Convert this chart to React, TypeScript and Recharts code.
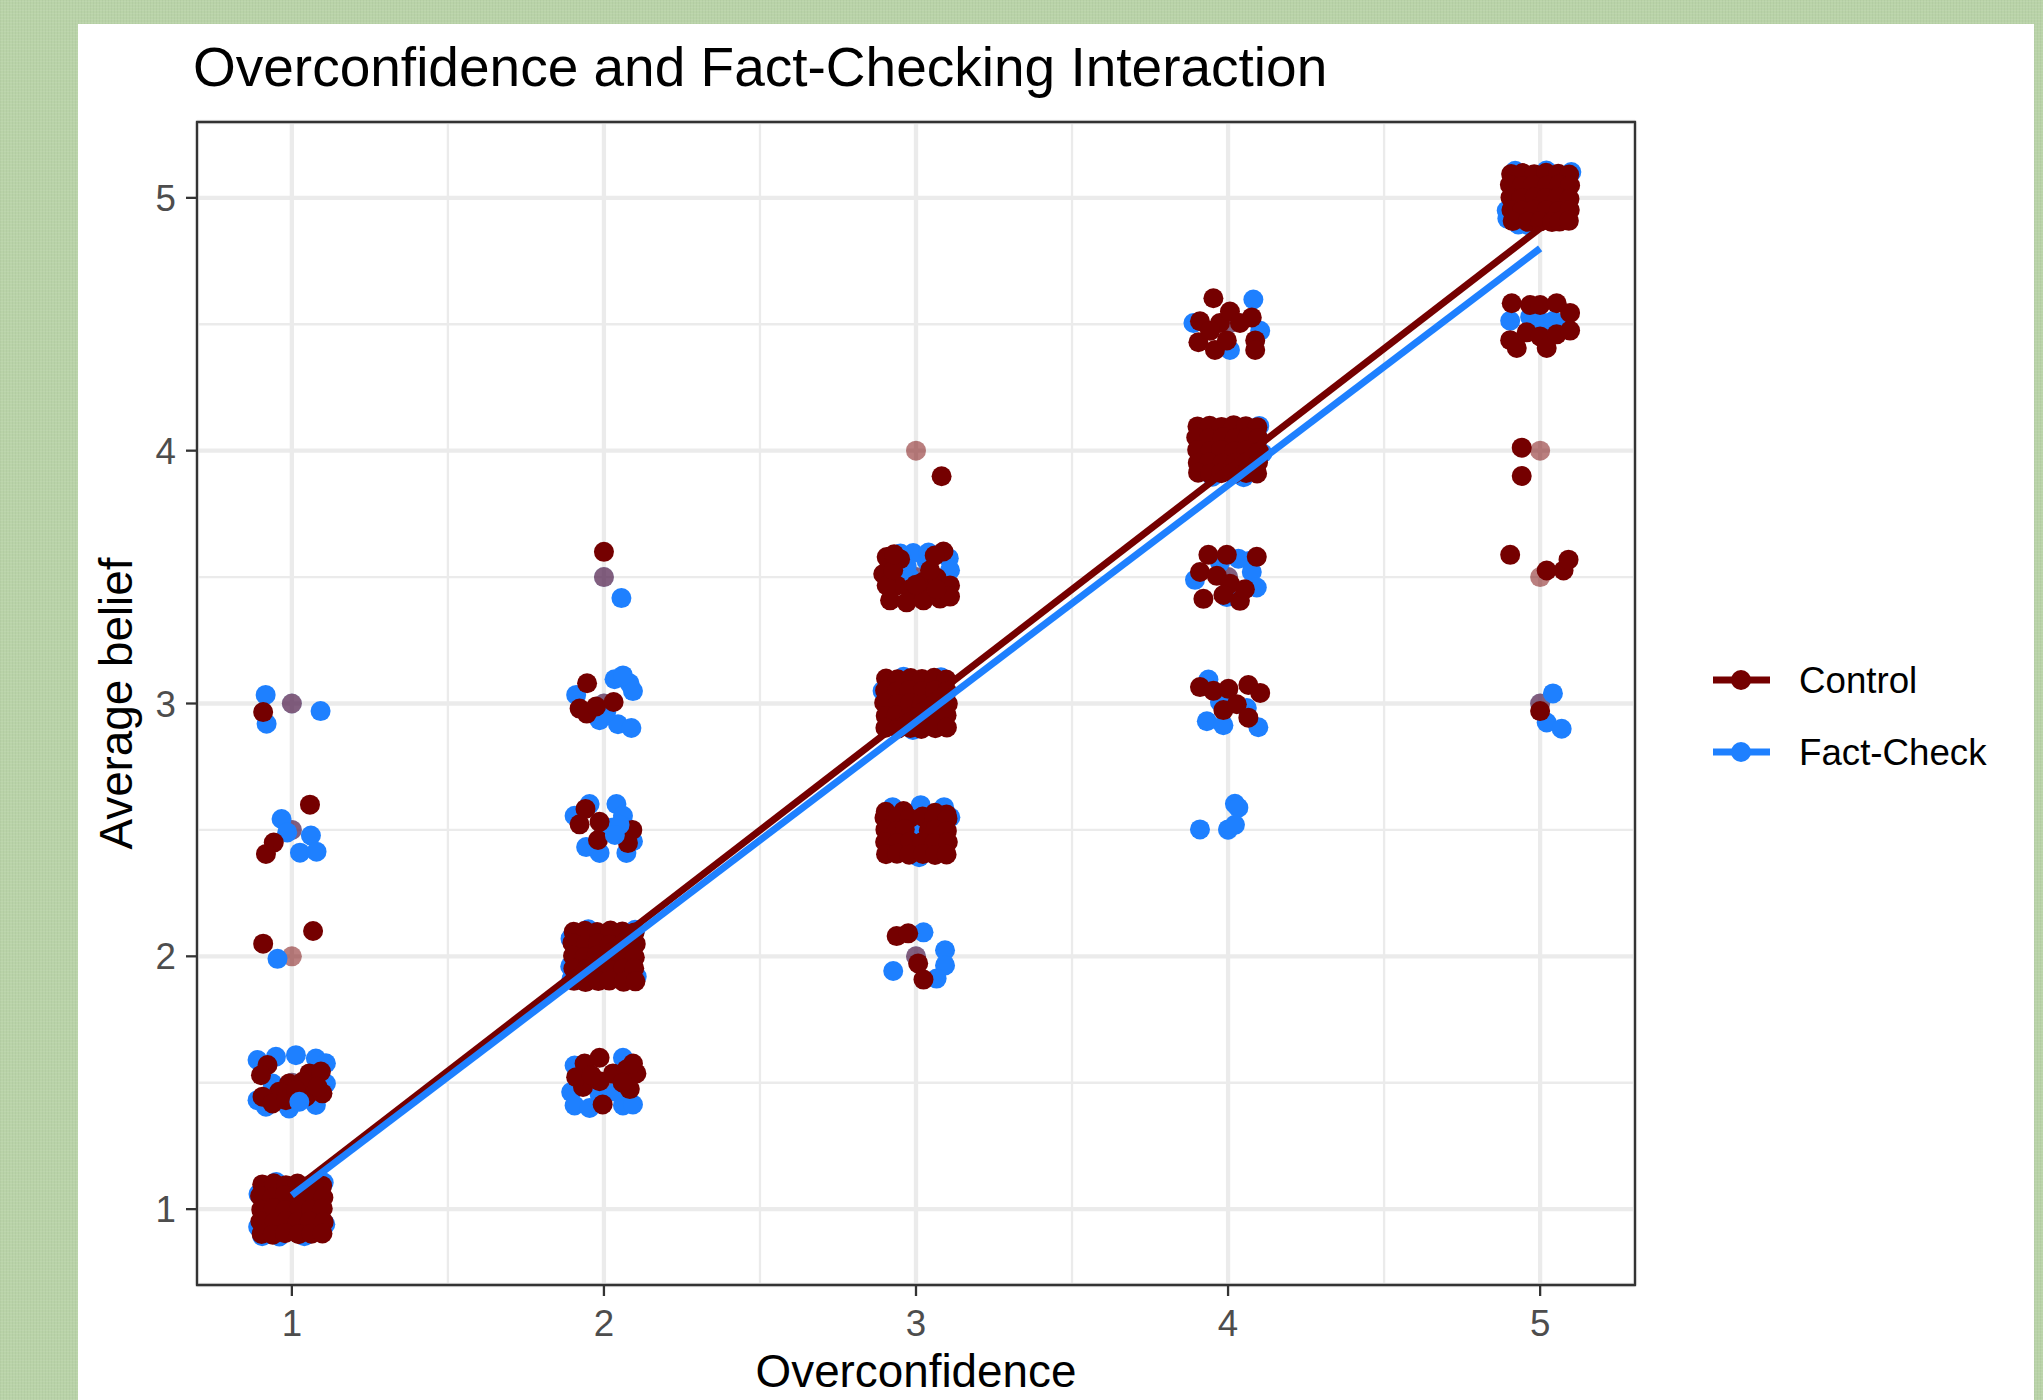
import React from 'react';
import { ScatterChart, Scatter, XAxis, YAxis, CartesianGrid, ReferenceArea, Legend } from 'recharts';

const FONT = '"Liberation Sans", Arial, Helvetica, sans-serif';
const CONTROL_COLOR = '#750000';
const FACT_COLOR = '#1E80FF';
const POINT_R = 10;

const chartTitle = 'Overconfidence and Fact-Checking Interaction';
const xTitle = 'Overconfidence';
const yTitle = 'Average belief';
const seriesNames = ['Control', 'Fact-Check'];

const xTicks = [1, 2, 3, 4, 5];
const yTicks = [1, 2, 3, 4, 5];
const minorBreaks = [1.5, 2.5, 3.5, 4.5];
const xDomain = [0.696, 5.304];
const yDomain = [0.7, 5.3];

// fitted lines (start / end)
const controlFit = [[1, 1.07], [5, 4.88]];
const factCheckFit = [[1, 1.055], [5, 4.8]];

// un-jittered observations (drawn translucent)
const controlExact = [
  [1, 3], [1, 2.5], [1, 2], [2, 3.5], [3, 4], [3, 2], [5, 4], [5, 3.5], [5, 3],
  [1, 1], [1, 1.5], [2, 2], [2, 1.5], [2, 2.5], [2, 3], [3, 3], [3, 3.5], [3, 2.5],
  [4, 4], [4, 4.5], [4, 3.5], [4, 3], [5, 5], [5, 4.5],
];
const factCheckExact = [
  [1, 3], [1, 2.5], [2, 3.5], [3, 2], [5, 3],
  [1, 1], [1, 1.5], [2, 2], [2, 1.5], [2, 2.5], [2, 3], [3, 3], [3, 3.5], [3, 2.5],
  [4, 4], [4, 4.5], [4, 3.5], [4, 3], [4, 2.5], [5, 5], [5, 4.5],
];

// jittered Control observations, by overconfidence level
const controlAt1 = [
  [0.908, 2.966],
  [1.058, 2.6], [0.942, 2.45], [0.917, 2.405],
  [1.068, 2.1], [0.908, 2.05],
  [0.922, 1.57], [0.901, 1.53], [1.056, 1.537], [1.093, 1.544], [0.991, 1.497], [1.034, 1.504],
  [0.959, 1.464], [0.906, 1.445], [0.938, 1.418], [0.981, 1.431], [1.045, 1.445], [1.098, 1.458],
  [1.013, 1.471], [1.082, 1.484],
  [0.905, 1.098], [0.942, 1.102], [0.981, 1.095], [1.018, 1.101], [1.062, 1.097], [1.097, 1.093],
  [0.898, 1.052], [0.938, 1.047], [0.977, 1.055], [1.021, 1.049], [1.058, 1.053], [1.101, 1.046],
  [0.902, 0.998], [0.941, 1.004], [0.979, 0.996], [1.023, 1.002], [1.061, 0.999], [1.099, 1.003],
  [0.899, 0.951], [0.944, 0.947], [0.982, 0.953], [1.017, 0.948], [1.057, 0.952], [1.102, 0.949],
  [0.903, 0.902], [0.939, 0.899], [0.978, 0.905], [1.022, 0.901], [1.063, 0.903], [1.098, 0.904],
];
const controlAt2 = [
  [2.0, 3.6],
  [1.946, 3.08], [1.922, 2.98], [1.945, 2.96], [1.975, 2.988], [2.031, 3.006],
  [1.941, 2.583], [1.922, 2.522], [1.986, 2.532], [1.981, 2.46], [2.091, 2.5], [2.077, 2.448],
  [1.903, 2.097], [1.939, 2.101], [1.978, 2.096], [2.021, 2.102], [2.059, 2.098], [2.098, 2.094],
  [1.899, 2.053], [1.942, 2.048], [1.981, 2.051], [2.018, 2.046], [2.062, 2.054], [2.102, 2.049],
  [1.901, 2.002], [1.938, 1.997], [1.977, 2.003], [2.022, 1.999], [2.058, 2.001], [2.099, 1.996],
  [1.902, 1.952], [1.943, 1.949], [1.979, 1.954], [2.019, 1.947], [2.061, 1.951], [2.097, 1.953],
  [1.904, 1.903], [1.941, 1.898], [1.982, 1.902], [2.017, 1.904], [2.063, 1.899], [2.101, 1.901],
  [1.938, 1.576], [1.986, 1.599], [1.933, 1.483], [1.986, 1.506], [2.029, 1.537], [2.072, 1.552],
  [2.104, 1.537], [2.083, 1.475], [1.996, 1.414], [1.911, 1.522], [2.093, 1.576], [2.06, 1.5], [1.96, 1.53],
];
const controlAt3 = [
  [3.082, 3.899],
  [2.906, 3.579], [2.949, 3.571], [3.088, 3.601], [2.895, 3.512], [2.938, 3.467], [2.981, 3.452],
  [3.024, 3.482], [3.066, 3.497], [3.109, 3.467], [2.917, 3.408], [2.97, 3.4], [3.024, 3.408],
  [3.077, 3.415], [3.045, 3.527], [2.906, 3.467], [3.109, 3.423], [2.927, 3.527], [3.066, 3.452],
  [2.93, 3.59], [3.06, 3.585], [3.0, 3.47],
  [2.904, 3.099], [2.941, 3.096], [2.983, 3.101], [3.019, 3.097], [3.058, 3.102], [3.097, 3.095],
  [2.901, 3.051], [2.939, 3.047], [2.978, 3.053], [3.022, 3.049], [3.061, 3.052], [3.099, 3.048],
  [2.898, 3.003], [2.942, 2.998], [2.981, 3.002], [3.018, 2.997], [3.063, 3.001], [3.102, 2.999],
  [2.903, 2.951], [2.937, 2.953], [2.979, 2.948], [3.021, 2.952], [3.059, 2.949], [3.098, 2.954],
  [2.902, 2.904], [2.943, 2.901], [2.982, 2.903], [3.017, 2.899], [3.062, 2.902], [3.099, 2.905],
  [2.903, 2.572], [3.061, 2.568], [3.098, 2.561], [2.96, 2.575],
  [2.899, 2.548], [2.942, 2.551], [2.979, 2.546], [3.021, 2.553], [3.058, 2.549], [3.101, 2.544],
  [2.902, 2.501], [2.938, 2.497], [2.964, 2.503], [3.041, 2.498], [3.062, 2.502], [3.099, 2.496],
  [2.901, 2.452], [2.941, 2.448], [2.981, 2.453], [3.019, 2.451], [3.058, 2.447], [3.102, 2.452],
  [2.904, 2.404], [2.939, 2.406], [2.978, 2.402], [3.022, 2.405], [3.061, 2.401], [3.098, 2.403],
  [2.938, 2.08], [2.975, 2.091], [3.007, 1.972], [3.024, 1.908],
];
const controlAt4 = [
  [3.953, 4.603], [3.91, 4.512], [3.974, 4.505], [4.006, 4.55], [4.076, 4.527], [4.038, 4.505],
  [3.905, 4.429], [3.958, 4.398], [3.996, 4.436], [4.087, 4.436], [4.087, 4.398], [3.942, 4.474],
  [3.902, 4.096], [3.941, 4.099], [3.979, 4.094], [4.018, 4.101], [4.057, 4.097], [4.094, 4.093],
  [3.898, 4.052], [3.938, 4.048], [3.982, 4.053], [4.021, 4.047], [4.062, 4.051], [4.097, 4.049],
  [3.901, 4.003], [3.943, 3.998], [3.977, 4.002], [4.019, 3.997], [4.059, 4.001], [4.099, 3.996],
  [3.903, 3.952], [3.939, 3.953], [3.981, 3.949], [4.022, 3.951], [4.061, 3.948], [4.096, 3.953],
  [3.904, 3.913], [3.942, 3.909], [3.978, 3.911], [4.017, 3.908], [4.058, 3.912], [4.093, 3.91],
  [3.937, 3.588], [3.996, 3.588], [4.092, 3.58], [3.91, 3.52], [3.964, 3.505], [4.006, 3.474],
  [3.921, 3.414], [3.985, 3.429], [4.038, 3.406], [4.054, 3.452],
  [3.91, 3.065], [3.953, 3.05], [4.001, 3.058], [4.065, 3.073], [4.103, 3.042], [3.985, 2.974],
  [4.028, 2.997], [4.065, 2.944],
];
const controlAt5 = [
  [4.907, 5.094], [4.944, 5.098], [4.981, 5.093], [5.019, 5.099], [5.058, 5.095], [5.093, 5.092],
  [4.903, 5.052], [4.941, 5.047], [4.978, 5.051], [5.022, 5.048], [5.061, 5.053], [5.096, 5.049],
  [4.905, 5.001], [4.939, 4.997], [4.983, 5.003], [5.018, 4.998], [5.057, 5.002], [5.094, 4.996],
  [4.908, 4.952], [4.942, 4.949], [4.979, 4.953], [5.021, 4.951], [5.059, 4.948], [5.095, 4.952],
  [4.912, 4.908], [4.96, 4.905], [5.0, 4.907], [5.038, 4.904], [5.062, 4.906], [5.092, 4.909],
  [4.909, 4.583], [4.968, 4.576], [5.0, 4.576], [5.053, 4.583], [5.096, 4.545], [4.904, 4.437],
  [4.957, 4.468], [5.0, 4.452], [5.053, 4.46], [5.096, 4.475], [5.021, 4.406], [4.925, 4.406],
  [4.941, 4.012], [4.941, 3.9],
  [4.904, 3.588], [5.021, 3.526], [5.075, 3.526], [5.091, 3.569],
  [5.0, 2.97],
];

// jittered Fact-Check observations, by overconfidence level
const factCheckAt1 = [
  [0.916, 3.034], [1.092, 2.97], [0.919, 2.92],
  [0.967, 2.543], [0.985, 2.49], [1.061, 2.478], [1.026, 2.41], [1.079, 2.414],
  [0.954, 1.99],
  [0.89, 1.59], [0.949, 1.603], [1.013, 1.609], [1.077, 1.596], [1.109, 1.577], [1.109, 1.497],
  [0.938, 1.497], [1.077, 1.412], [0.991, 1.398], [0.917, 1.405], [0.89, 1.431],
  [0.893, 1.06], [0.892, 0.93], [0.905, 0.893], [0.96, 0.892], [1.04, 0.893], [1.107, 0.94],
  [1.102, 1.105], [0.95, 1.107],
];
const factCheckAt2 = [
  [2.056, 3.417],
  [1.911, 3.034], [2.034, 3.096], [2.082, 3.08], [2.093, 3.049], [1.986, 2.934], [2.045, 2.918],
  [2.088, 2.903], [2.007, 2.965], [2.061, 3.111],
  [1.906, 2.556], [1.954, 2.602], [2.04, 2.602], [2.061, 2.556], [2.072, 2.509], [2.093, 2.455],
  [1.943, 2.432], [1.986, 2.409], [2.072, 2.409], [2.024, 2.509],
  [1.893, 2.07], [1.892, 1.96], [1.896, 1.91], [2.105, 1.92], [2.1, 2.105], [1.95, 2.107],
  [1.906, 1.568], [2.061, 1.599], [1.895, 1.463], [1.906, 1.41], [1.954, 1.4], [2.061, 1.41],
  [2.093, 1.414], [2.04, 1.463], [1.986, 1.455],
];
const factCheckAt3 = [
  [2.97, 3.542], [3.034, 3.564], [2.991, 3.595], [3.105, 3.575], [3.109, 3.527], [2.981, 3.497],
  [2.95, 3.593], [3.04, 3.597],
  [2.96, 3.106], [3.08, 3.104], [2.893, 3.05], [2.99, 2.895],
  [2.925, 2.59], [3.015, 2.598], [3.09, 2.59], [3.11, 2.55], [3.0, 2.5], [3.01, 2.392],
  [3.024, 2.095], [3.093, 2.024], [3.093, 1.964], [2.927, 1.942], [3.066, 1.912],
];
const factCheckAt4 = [
  [4.081, 4.598], [4.103, 4.474], [4.006, 4.398], [3.889, 4.505],
  [4.1, 4.098], [4.11, 3.99], [4.05, 3.895], [3.95, 3.897],
  [3.974, 3.558], [4.033, 3.573], [4.071, 3.565], [4.076, 3.52], [4.092, 3.459], [3.894, 3.489],
  [3.996, 3.421],
  [3.937, 3.095], [3.932, 2.93], [3.985, 2.914], [4.06, 2.982], [4.097, 2.906], [3.974, 3.006],
  [4.022, 2.603], [4.033, 2.588], [3.91, 2.502], [4.0, 2.502], [4.022, 2.52],
];
const factCheckAt5 = [
  [4.893, 4.95], [4.895, 4.918], [4.92, 5.107], [5.02, 5.108], [5.1, 5.102], [4.96, 4.893], [4.93, 4.895],
  [4.904, 4.514], [4.968, 4.529], [5.011, 4.506], [5.043, 4.514], [5.07, 4.5],
  [5.041, 3.04], [5.021, 2.925], [5.069, 2.9],
];
// Fact-Check points that lie on top of Control points
const factCheckFront = [[1.024, 1.425], [2.05, 2.52], [2.035, 2.48]];

const toPoints = (arr: number[][]) => arr.map(([x, y]) => ({ x, y }));

const controlJitter = toPoints([...controlAt1, ...controlAt2, ...controlAt3, ...controlAt4, ...controlAt5]);
const factCheckJitter = toPoints([...factCheckAt1, ...factCheckAt2, ...factCheckAt3, ...factCheckAt4, ...factCheckAt5]);

const dot = (color: string, opacity: number) => (props: any) => (
  <circle cx={props.cx} cy={props.cy} r={POINT_R} fill={color} fillOpacity={opacity} stroke="none" />
);
const noDot = () => <g />;

const legendItems = [
  { name: seriesNames[0], color: CONTROL_COLOR },
  { name: seriesNames[1], color: FACT_COLOR },
];

const renderLegend = () => (
  <svg width={330} height={160} style={{ display: 'block' }}>
    {legendItems.map((item, i) => {
      const cy = 40 + i * 72;
      return (
        <g key={item.name}>
          <line x1={13} x2={70} y1={cy} y2={cy} stroke={item.color} strokeWidth={7} />
          <circle cx={41} cy={cy} r={POINT_R} fill={item.color} />
          <text x={99} y={cy + 13} fontFamily={FONT} fontSize={36.7} fill="#000">
            {item.name}
          </text>
        </g>
      );
    })}
  </svg>
);

const renderXLabel = (props: any) => {
  const vb = props.viewBox || {};
  return (
    <text x={vb.x + vb.width / 2} y={vb.y + 102} textAnchor="middle" fontFamily={FONT} fontSize={45.8} fill="#000">
      {xTitle}
    </text>
  );
};

const renderYLabel = (props: any) => {
  const vb = props.viewBox || {};
  const x = vb.x + 132;
  const y = vb.y + vb.height / 2;
  return (
    <text x={x} y={y} transform={`rotate(-90 ${x} ${y})`} textAnchor="middle" fontFamily={FONT} fontSize={45.8} fill="#000">
      {yTitle}
    </text>
  );
};

const tickStyle = { fill: '#4D4D4D', fontSize: 36.7, fontFamily: FONT };
const tickLineStyle = { stroke: '#333333', strokeWidth: 2.3 };

export default function App() {
  return (
    <div
      style={{
        position: 'absolute',
        left: 0,
        top: 0,
        width: 2043,
        height: 1400,
        overflow: 'hidden',
        backgroundColor: '#B9D3A8',
        backgroundImage:
          'repeating-linear-gradient(0deg, rgba(255,255,255,0.07) 0px, rgba(255,255,255,0.07) 1px, transparent 1px, transparent 3px), repeating-linear-gradient(90deg, rgba(0,0,0,0.035) 0px, rgba(0,0,0,0.035) 1px, transparent 1px, transparent 3px)',
        fontFamily: FONT,
      }}
    >
      <div style={{ position: 'absolute', left: 78, top: 24, width: 1956, height: 1376, background: '#FFFFFF' }} />
      <div
        style={{
          position: 'absolute',
          left: 193,
          top: 40,
          fontSize: 55,
          lineHeight: '55px',
          whiteSpace: 'nowrap',
          color: '#000',
          fontFamily: FONT,
        }}
      >
        {chartTitle}
      </div>
      <div style={{ position: 'absolute', left: 0, top: 0 }}>
        <ScatterChart width={2043} height={1400} margin={{ top: 122, right: 408, bottom: 0, left: 0 }}>
          <CartesianGrid stroke="#EBEBEB" strokeWidth={4.3} />
          <CartesianGrid stroke="#EBEBEB" strokeWidth={2.3} horizontalValues={minorBreaks} verticalValues={minorBreaks} />
          <XAxis
            type="number"
            dataKey="x"
            domain={xDomain}
            ticks={xTicks}
            interval={0}
            allowDataOverflow
            axisLine={false}
            tickLine={tickLineStyle}
            tickSize={11}
            tickMargin={14}
            height={115}
            tick={tickStyle}
            label={{ content: renderXLabel }}
          />
          <YAxis
            type="number"
            dataKey="y"
            domain={yDomain}
            ticks={yTicks}
            interval={0}
            allowDataOverflow
            axisLine={false}
            tickLine={tickLineStyle}
            tickSize={11}
            tickMargin={10}
            width={197}
            tick={tickStyle}
            label={{ content: renderYLabel }}
          />
          <Scatter name="Fact-Check exact" data={toPoints(factCheckExact)} shape={dot(FACT_COLOR, 0.5)} isAnimationActive={false} legendType="none" />
          <Scatter name="Control exact" data={toPoints(controlExact)} shape={dot(CONTROL_COLOR, 0.5)} isAnimationActive={false} legendType="none" />
          <Scatter name={seriesNames[1]} data={factCheckJitter} shape={dot(FACT_COLOR, 1)} isAnimationActive={false} />
          <Scatter name={seriesNames[0]} data={controlJitter} shape={dot(CONTROL_COLOR, 1)} isAnimationActive={false} />
          <Scatter name="Fact-Check front" data={toPoints(factCheckFront)} shape={dot(FACT_COLOR, 1)} isAnimationActive={false} legendType="none" />
          <Scatter
            name="Control fit"
            data={toPoints(controlFit)}
            fill={CONTROL_COLOR}
            line={{ stroke: CONTROL_COLOR, strokeWidth: 7 }}
            shape={noDot}
            isAnimationActive={false}
            legendType="none"
          />
          <Scatter
            name="Fact-Check fit"
            data={toPoints(factCheckFit)}
            fill={FACT_COLOR}
            line={{ stroke: FACT_COLOR, strokeWidth: 7 }}
            shape={noDot}
            isAnimationActive={false}
            legendType="none"
          />
          <ReferenceArea
            x1={xDomain[0]}
            x2={xDomain[1]}
            y1={yDomain[0]}
            y2={yDomain[1]}
            fill="none"
            fillOpacity={0}
            stroke="#333333"
            strokeWidth={2.3}
            ifOverflow="visible"
          />
          <Legend
            layout="vertical"
            align="center"
            verticalAlign="middle"
            content={renderLegend}
            wrapperStyle={{ left: 1700, top: 640, width: 330, height: 160 }}
          />
        </ScatterChart>
      </div>
    </div>
  );
}
